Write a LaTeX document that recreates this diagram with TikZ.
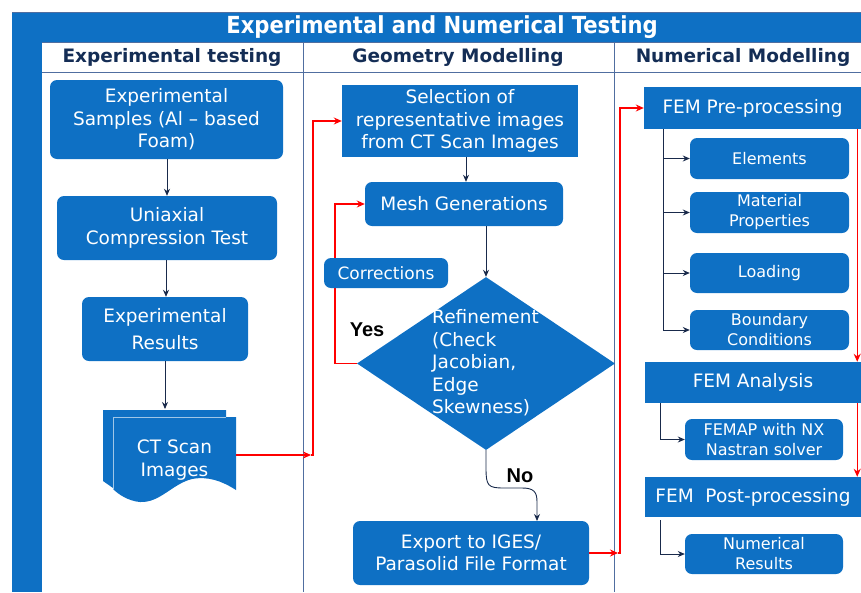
\documentclass[tikz,border=0pt]{standalone}
\usepackage{fontspec}
\setmainfont{DejaVu Sans}
\newfontfamily\titlefont{DejaVu Sans Condensed Bold}
\newfontfamily\yesfont{Liberation Sans}
\usetikzlibrary{shapes.geometric,arrows.meta,calc}
\definecolor{fblue}{RGB}{14,112,196}
\definecolor{navy}{RGB}{25,42,75}
\definecolor{gridc}{RGB}{80,110,160}
\definecolor{hdr}{RGB}{20,45,85}
\tikzset{
  box/.style={fill=fblue, text=white, align=center, inner sep=0pt, rounded corners=7pt,
    font=\fontsize{18.5}{22.5}\selectfont},
  sqbox/.style={box, rounded corners=0pt},
  smallbox/.style={box, font=\fontsize{16}{20}\selectfont},
  darr/.style={draw=navy, line width=0.9pt, -{Stealth[length=7pt,width=6pt]}},
  rarr/.style={draw=red, line width=1.3pt, -{Stealth[length=8pt,width=7pt]}},
  hdrtext/.style={text=hdr, font=\fontsize{18.5}{22}\selectfont\bfseries},
  lbl/.style={text=black, font=\fontsize{20}{24}\selectfont\yesfont\bfseries},
}
\begin{document}
\begin{tikzpicture}[x=1pt,y=-1pt]
\useasboundingbox (0,0) rectangle (861,592);
% frame
\fill[fblue] (12,12) rectangle (861,42);
\draw[gridc, line width=0.6pt] (12,12) -- (861,12);
\fill[fblue] (12,42) rectangle (42,592);
\draw[gridc, line width=0.8pt] (42,42) -- (861,42) (42,72) -- (861,72)
  (303,42) -- (303,592) (614,42) -- (614,592);
\node[text=white, font=\fontsize{23.5}{26}\selectfont\titlefont] (title) at (442,27) {Experimental and Numerical Testing};
\node[hdrtext] (h1) at (172,57) {Experimental testing};
\node[hdrtext] (h2) at (458,57) {Geometry Modelling};
\node[hdrtext] (h3) at (743,57) {Numerical Modelling};

% left column
\node[box, minimum width=233, minimum height=79] (samp) at (166.5,119.5) {Experimental\\Samples (Al – based\\Foam)};
\node[box, minimum width=220, minimum height=64] (uni) at (167,228) {Uniaxial\\Compression Test};
\node[box, minimum width=166, minimum height=64] (expres) at (165,329) {Experimental\\[5pt]Results};
% CT scan document stack
\fill[fblue] (103,410) -- (226,410) -- (226,470) -- (113,488) -- (103,481) -- cycle;
\fill[fblue] (113,417) -- (236,417) -- (236,490)
  .. controls (222,481) and (208,476) .. (192,479)
  .. controls (172,484) and (160,503) .. (140,502)
  .. controls (128,501) and (118,494) .. (113,489) -- cycle;
\draw[white!60!fblue, line width=0.7pt] (113,489) -- (113,417) -- (226,417);
\node[box, fill=none, minimum width=123, minimum height=60] (ct) at (174.5,460) {CT Scan\\Images};

\draw[darr] (samp.south -| 167,0) -- (uni.north -| 167,0);
\draw[darr] (uni.south -| 166,0) -- (expres.north -| 166,0);
\draw[darr] (expres.south) -- (expres.south |- 0,409);

% middle column
\node[sqbox, minimum width=236, minimum height=72] (sel) at (460,121) {Selection of\\representative images\\from CT Scan Images};
\node[box, minimum width=198, minimum height=44] (mesh) at (464,204) {Mesh Generations};
\node[diamond, fill=fblue, minimum width=258, minimum height=173, inner sep=0pt] (dia) at (486,363.5) {};
\node[text=white, align=left, anchor=west, inner sep=0pt, font=\fontsize{18.5}{22.5}\selectfont] (dtxt) at (432,363) {Refinement\\(Check\\Jacobian,\\Edge\\Skewness)};
\node[box, minimum width=236, minimum height=64] (exp) at (471,553) {Export to IGES/\\Parasolid File Format};

\coordinate (c1) at (311,455);
\draw[rarr] ([yshift=5pt]ct.east) -- (c1);
\draw[rarr] (c1) -- (313,455) |- (sel.west);
\coordinate (c2) at (335,204);
\draw[rarr] (dia.west) -| (c2) -- (mesh.west);
\node[box, font=\fontsize{17}{20}\selectfont, minimum width=124, minimum height=30] (corr) at (386,273) {Corrections};
\draw[darr] (sel.south -| 466,0) -- (mesh.north -| 466,0);
\draw[darr] (mesh.south -| dia.north) -- (dia.north);
\node[lbl] (yes) at (367,330) {Yes};
\node[lbl] (no) at (520,476) {No};
\coordinate (nend) at (537,521);
\draw[darr] (dia.south) -- (486,468) .. controls (486,486) and (488,488) .. (504,488)
  -- (522,488) .. controls (534,488) and (537,492) .. (537,502) -- (nend);

% right column
\node[sqbox, minimum width=217, minimum height=42] (pre) at (752.5,108) {FEM Pre-processing};
\node[smallbox, minimum width=159, minimum height=41] (el) at (769.5,158.5) {Elements};
\node[smallbox, minimum width=159, minimum height=41] (mat) at (769.5,212.5) {Material\\Properties};
\node[smallbox, minimum width=159, minimum height=40] (load) at (769.5,273) {Loading};
\node[smallbox, minimum width=159, minimum height=40] (bc) at (769.5,330) {Boundary\\Conditions};
\node[sqbox, minimum width=216, minimum height=41] (ana) at (753,382.5) {FEM Analysis};
\node[smallbox, minimum width=158, minimum height=41] (femap) at (764,439.5) {FEMAP with NX\\Nastran solver};
\node[sqbox, minimum width=216, minimum height=40] (post) at (753,497) {FEM\ \ Post-processing};
\node[smallbox, minimum width=158, minimum height=40] (num) at (764,554) {Numerical\\Results};

\coordinate (c3) at (618,553);
\draw[rarr] (exp.east) -- (c3);
\draw[rarr] (c3) -- (620,553) |- (pre.west);
\draw[rarr] ([xshift=-4pt]pre.south east) -- ([xshift=-4pt]ana.north east);
\draw[rarr] ([xshift=-4pt]ana.south east) -- ([xshift=-4pt]post.north east);

\coordinate (t1) at (663,129);
\draw[navy, line width=0.9pt] (t1) -- (t1 |- bc.west);
\draw[darr] (t1 |- el.west) -- (el.west);
\draw[darr] (t1 |- mat.west) -- (mat.west);
\draw[darr] (t1 |- load.west) -- (load.west);
\draw[darr] (t1 |- bc.west) -- (bc.west);
\coordinate (t2) at (660,403);
\draw[darr] (t2) |- (femap.west);
\coordinate (t3) at (660,520);
\draw[darr] (t3) |- (num.west);
\end{tikzpicture}
\end{document}
